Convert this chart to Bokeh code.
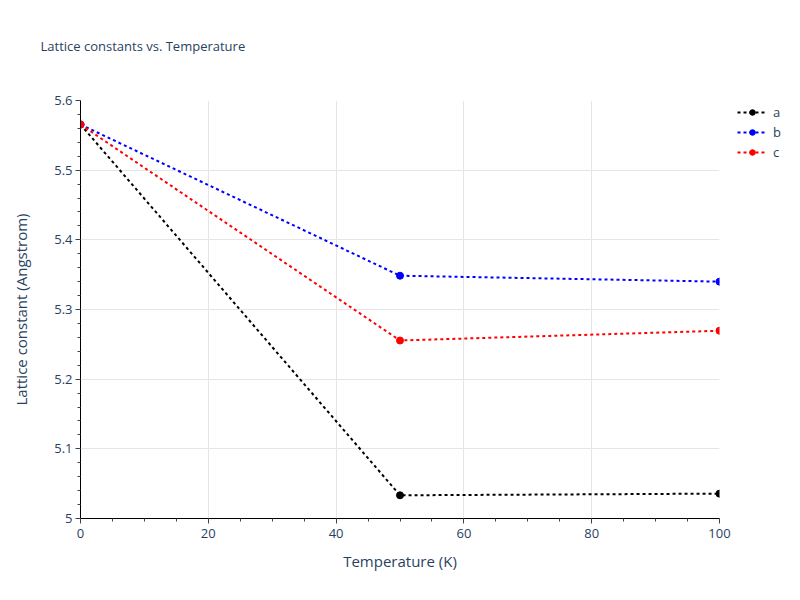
from bokeh.plotting import figure
from bokeh.models import Range1d, FixedTicker, Legend, LegendItem, Title
from bokeh.embed import file_html
from bokeh.resources import INLINE

temperature = [0, 50, 100]
a_vals = [5.5655, 5.0333, 5.0357]
b_vals = [5.5655, 5.3485, 5.3400]
c_vals = [5.5655, 5.2555, 5.2695]
series_names = ["a", "b", "c"]
series_colors = ["black", "blue", "red"]
x_ticks = [0, 20, 40, 60, 80, 100]
y_ticks = [5.0, 5.1, 5.2, 5.3, 5.4, 5.5, 5.6]
y_tick_labels = ["5", "5.1", "5.2", "5.3", "5.4", "5.5", "5.6"]

FONT = "Open Sans"
TXT = "#2a3f5f"

p = figure(frame_width=639, frame_height=418, output_backend="svg",
           toolbar_location=None, x_range=Range1d(0, 100), y_range=Range1d(5.0, 5.6),
           min_border_left=80, min_border_right=81, min_border_top=100, min_border_bottom=82,
           title="Lattice constants vs. Temperature")
p.outline_line_color = None
p.background_fill_color = "white"

p.title.text_font = FONT
p.title.text_font_size = "13px"
p.title.text_color = TXT
p.title.text_font_style = "normal"
p.title.align = "left"
p.title.offset = -40
p.title.standoff = 0

# empty spacer between the title and the plot frame
spacer = Title(text=" ", text_font=FONT, text_font_size="12px", standoff=27)
p.add_layout(spacer, "above")

p.xaxis.ticker = FixedTicker(ticks=x_ticks, minor_ticks=[v for v in range(0, 101, 5)])
p.yaxis.ticker = FixedTicker(ticks=y_ticks, minor_ticks=[round(5.0 + 0.02 * i, 2) for i in range(31)])
p.yaxis.major_label_overrides = {v: s for v, s in zip(y_ticks, y_tick_labels)}

for ax in (p.xaxis[0], p.yaxis[0]):
    ax.axis_line_color = "black"
    ax.axis_line_width = 1
    ax.major_tick_line_color = "#444444"
    ax.minor_tick_line_color = "#444444"
    ax.major_tick_out = 5
    ax.major_tick_in = 0
    ax.minor_tick_out = 3
    ax.minor_tick_in = 0
    ax.major_label_text_font = FONT
    ax.major_label_text_font_size = "13px"
    ax.major_label_text_color = TXT
    ax.axis_label_text_font = FONT
    ax.axis_label_text_font_size = "15px"
    ax.axis_label_text_color = TXT
    ax.axis_label_text_font_style = "normal"

p.xaxis.axis_label = "Temperature (K)"
p.yaxis.axis_label = "Lattice constant (Angstrom)"
p.xaxis.major_label_standoff = 5
p.yaxis.major_label_standoff = 3
p.xaxis.axis_label_standoff = 10
p.yaxis.axis_label_standoff = 20

p.xgrid.grid_line_color = "#e5e5e5"
p.ygrid.grid_line_color = "#e5e5e5"

items = []
for name, vals, col in zip(series_names, [a_vals, b_vals, c_vals], series_colors):
    r1 = p.line(temperature, vals, line_color=col, line_width=2, line_dash="3 3")
    r2 = p.scatter(temperature, vals, size=7, fill_color=col, line_color=col)
    items.append(LegendItem(label=name, renderers=[r1, r2]))

legend = Legend(items=items, location=(18, 357), orientation="vertical",
                label_text_font=FONT, label_text_font_size="13px", label_text_color=TXT,
                glyph_width=30, glyph_height=14, label_height=14, spacing=2, padding=0, margin=0,
                border_line_color=None, background_fill_alpha=0, label_standoff=6)
p.add_layout(legend, "right")

open("out.html", "w").write(file_html(p, INLINE))
